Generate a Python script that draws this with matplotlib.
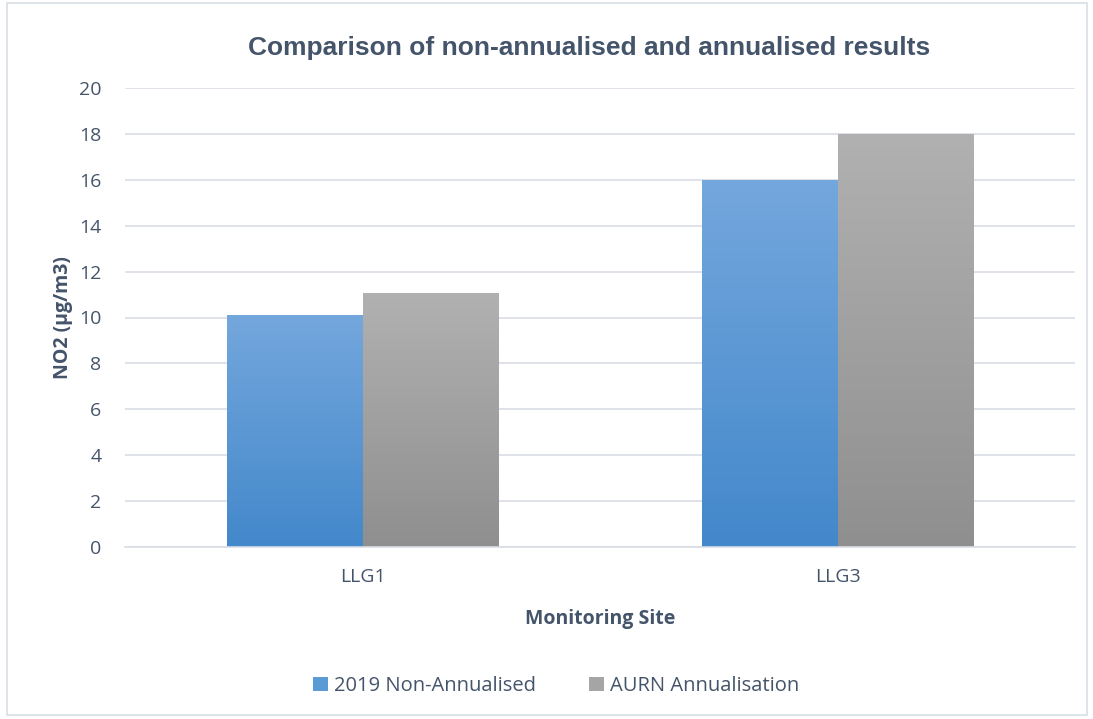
import matplotlib
matplotlib.use("Agg")
import matplotlib.pyplot as plt
import numpy as np
from matplotlib.patches import Rectangle, Patch
from matplotlib.colors import LinearSegmentedColormap

sites = ["LLG1", "LLG3"]
series_names = ["2019 Non-Annualised", "AURN Annualisation"]
non_annualised = [10.1, 16.0]
annualised = [11.05, 18.0]
yticks = [0, 2, 4, 6, 8, 10, 12, 14, 16, 18, 20]

fig = plt.figure(figsize=(10.93, 7.19), dpi=100)
ax = fig.add_axes([125/1093, 1-547/719, 950/1093, 459/719])

txt = "#44546a"
tickfont = "Open Sans"
fs = 14
grads = [("#4388cb", "#74a7dd"), ("#8f8f8f", "#b1b1b1")]
w = 0.286
x = np.arange(len(sites))
for si, (vals, (c0, c1)) in enumerate(zip([non_annualised, annualised], grads)):
    cmap = LinearSegmentedColormap.from_list("g", [c0, c1])
    offs = -w/2 if si == 0 else w/2
    bars = ax.bar(x + offs, vals, width=w, color="none", zorder=2)
    for b in bars:
        bx = b.get_x()
        bw, bh = b.get_width(), b.get_height()
        grad = np.linspace(0, 1, 256).reshape(-1, 1)
        im = ax.imshow(grad, cmap=cmap, origin="lower", aspect="auto",
                       extent=[bx, bx + bw, 0, bh], zorder=2)
        im.set_clip_path(b)

ax.set_xlim(-0.5, 1.5)
ax.set_ylim(0, 20)
ax.set_yticks(yticks)
ax.set_xticks(x)
ax.set_xticklabels(sites)
ax.grid(axis="y", color="#d9dde5", linewidth=1.2, zorder=0)
ax.set_axisbelow(True)
for s in ["top", "right", "left"]:
    ax.spines[s].set_visible(False)
ax.spines["bottom"].set_color("#d9dde5")
ax.spines["bottom"].set_linewidth(1.2)
ax.tick_params(axis="both", length=0, labelsize=fs, labelcolor=txt)
ax.tick_params(axis="y", pad=17)
ax.tick_params(axis="x", pad=15)
for lab in ax.get_xticklabels() + ax.get_yticklabels():
    lab.set_fontfamily(tickfont)

ax.set_ylabel("NO2 (µg/m3)", fontsize=fs, fontweight="bold", color=txt,
              family=tickfont, labelpad=4)
ax.set_xlabel("Monitoring Site", fontsize=fs, fontweight="bold", color=txt,
              family=tickfont, labelpad=17)
fig.text(589/1093, 1-48/719, "Comparison of non-annualised and annualised results",
         ha="center", va="center", fontsize=19, fontweight="bold", color=txt,
         family="Liberation Sans")

handles = [Patch(facecolor="#5b9bd5", label=series_names[0]),
           Patch(facecolor="#a5a5a5", label=series_names[1])]
leg = fig.legend(handles=handles, loc="center", bbox_to_anchor=(556/1093, 1-686/719),
                 ncol=2, frameon=False, handlelength=0.75, handleheight=0.75,
                 handletextpad=0.3, columnspacing=2.6,
                 prop={"family": tickfont, "size": 14.5})
for t in leg.get_texts():
    t.set_color(txt)

fig.patches.append(Rectangle((7/1093, 4/719), 1080/1093, 712/719, transform=fig.transFigure,
                             fill=False, edgecolor="#d9dee6", linewidth=1.2))
fig.savefig("out.png", dpi=100)
